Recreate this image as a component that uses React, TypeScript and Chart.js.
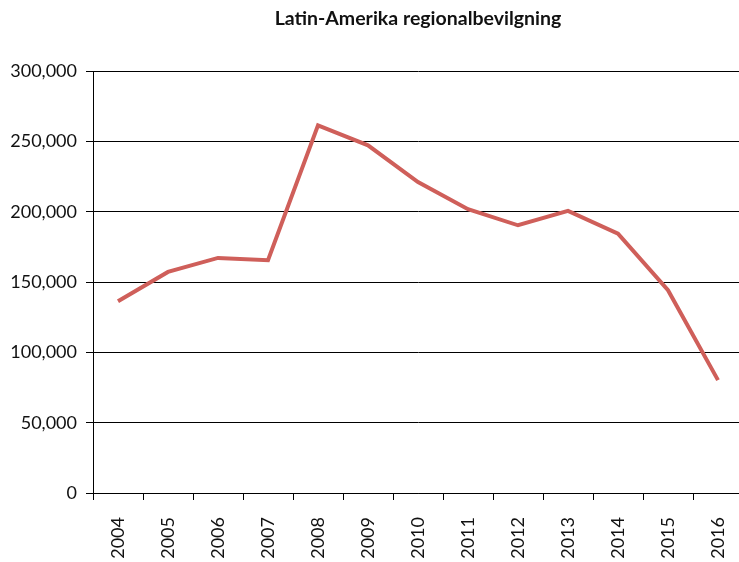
import React, { useEffect, useRef } from "react";
import { Chart, registerables } from "chart.js";

Chart.register(...registerables);

const title = "Latin-Amerika regionalbevilgning";
const years = ["2004", "2005", "2006", "2007", "2008", "2009", "2010", "2011", "2012", "2013", "2014", "2015", "2016"];
const values = [136500, 157300, 167300, 165700, 261600, 247400, 221300, 201900, 190500, 200700, 184600, 144300, 80300];
const yMin = 0;
const yMax = 300000;
const yStep = 50000;

const FONT = "Lato, 'Open Sans', sans-serif";

export default function App() {
  const ref = useRef<HTMLCanvasElement | null>(null);

  useEffect(() => {
    if (!ref.current) return;
    const chart = new Chart(ref.current, {
      type: "line",
      data: {
        labels: years,
        datasets: [
          {
            label: title,
            data: values,
            borderColor: "#CF5F5A",
            backgroundColor: "#CF5F5A",
            borderWidth: 4,
            pointRadius: 0,
            tension: 0,
            fill: false,
          },
        ],
      },
      options: {
        animation: false,
        responsive: true,
        maintainAspectRatio: false,
        layout: { padding: { top: 0, right: 2, bottom: 0, left: 0 } },
        plugins: {
          legend: { display: false },
          tooltip: { enabled: false },
          title: {
            display: true,
            text: title,
            fullSize: false,
            color: "#111",
            font: { family: FONT, size: 19.5, weight: "bold" },
            padding: { top: 7, bottom: 41 },
          },
        },
        scales: {
          x: {
            type: "category",
            offset: true,
            grid: {
              display: true,
              offset: true,
              drawOnChartArea: false,
              drawTicks: true,
              tickLength: 7,
              color: "#000",
            },
            border: { display: true, color: "#000", width: 1 },
            ticks: {
              minRotation: 90,
              maxRotation: 90,
              padding: 17,
              color: "#111",
              font: { family: FONT, size: 18 },
              autoSkip: false,
            },
            afterFit: (scale: any) => {
              scale.height = 69;
              scale.paddingLeft = 0;
              scale.paddingRight = 0;
            },
          },
          y: {
            min: yMin,
            max: yMax,
            grid: {
              display: true,
              color: "#000",
              lineWidth: 1,
              drawTicks: true,
              tickLength: 7,
            },
            border: { display: true, color: "#000", width: 1 },
            ticks: {
              stepSize: yStep,
              padding: 9,
              color: "#111",
              font: { family: FONT, size: 18 },
              callback: (v: any) => Number(v).toLocaleString("en-US"),
            },
            afterFit: (scale: any) => {
              scale.width = 93;
            },
          },
        },
      },
    });
    return () => chart.destroy();
  }, []);

  return (
    <div style={{ position: "fixed", left: 0, top: 0, width: 739, height: 562, overflow: "hidden", background: "#fff" }}>
      <div style={{ position: "relative", width: 745, height: 562 }}>
        <canvas ref={ref} />
      </div>
    </div>
  );
}
